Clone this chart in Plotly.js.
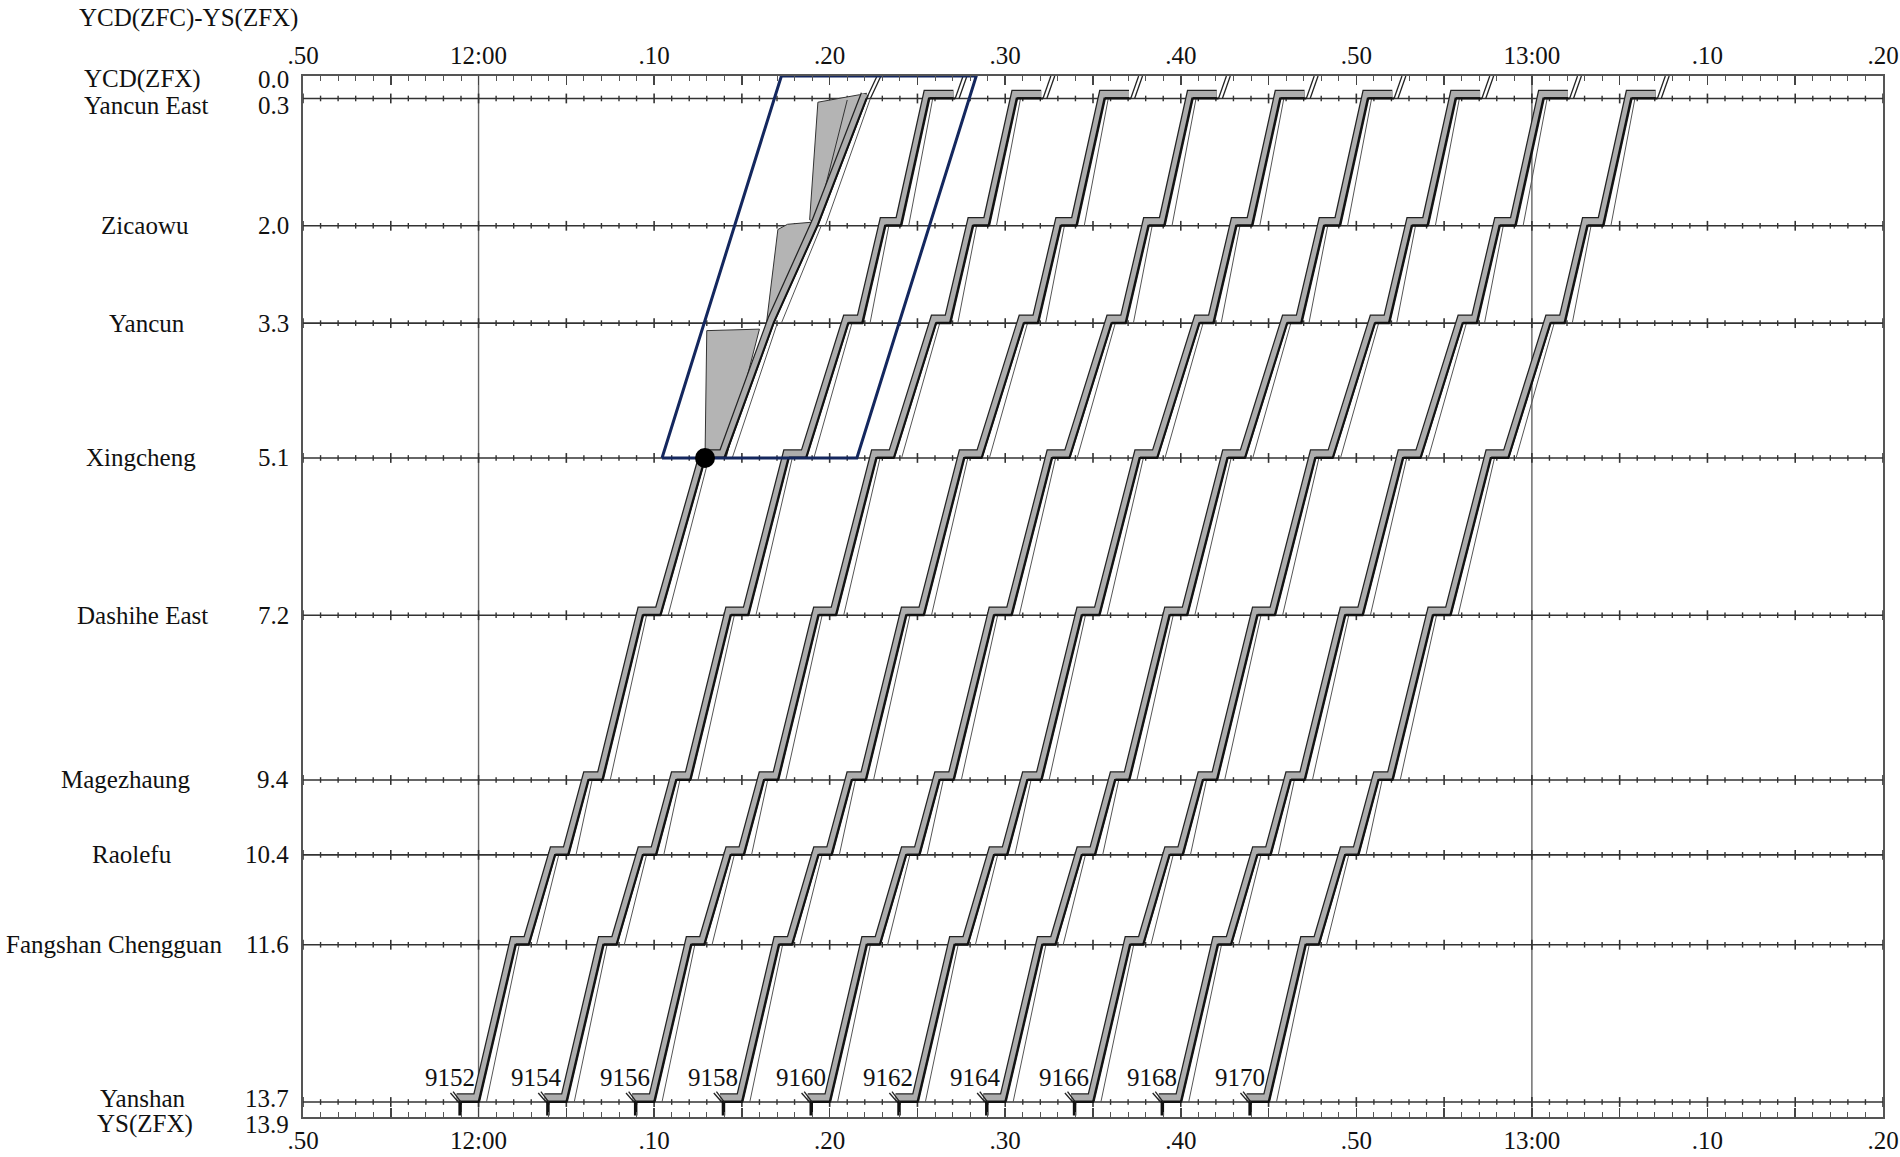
<!DOCTYPE html>
<html><head><meta charset="utf-8">
<script src="https://cdn.plot.ly/plotly-3.0.1.min.js"></script>
<style>html,body{margin:0;padding:0;background:#fff}#chart{width:1900px;height:1157px}</style>
</head><body><div id="chart"></div>
<script>
// ---------------- data ----------------
// stations (km from YCD)
const stationNames = ["YCD(ZFX)","Yancun East","Zicaowu","Yancun","Xingcheng","Dashihe East","Magezhaung","Raolefu","Fangshan Chengguan","Yanshan","YS(ZFX)"];
const stationKm = [0.0,0.3,2.0,3.3,5.1,7.2,9.4,10.4,11.6,13.7,13.9];
const stationKmLabels = ["0.0","0.3","2.0","3.3","5.1","7.2","9.4","10.4","11.6","13.7","13.9"];
// time axis: minutes after 12:00
const tickVals = [-10,0,10,20,30,40,50,60,70,80];
const tickLabels = [".50","12:00",".10",".20",".30",".40",".50","13:00",".10",".20"];
const hourLines = [0,60];

// up-train route Yanshan -> YCD(ZFX)
const routeKm = [13.7,11.6,10.4,9.4,7.2,5.1,3.3,2.0,0.3,0.0];
const trainNos = ["9152","9154","9156","9158","9160","9162","9164","9166","9168","9170"];
const trainStart = [0,5,10,15,20,25,30,35,40,45];            // departure from Yanshan (min after 12:00)
const arrOffset = [-1.15,2.1,4.35,6.25,9.35,12.65,16.05,18.15,20.65,22.6]; // arrival, min after start
const depOffset = [0,2.85,5.1,7.05,10.35,13.65,16.85,19.05,22.15,22.6];    // departure, min after start
// train 9152: disturbed run beyond Xingcheng (min after 12:00)
const t9152Arr = [-1.15,2.1,4.35,6.25,9.35,12.9,16.8,19.3,22.1,22.7];
const t9152Dep = [0,2.85,5.1,7.05,10.35,14.0,16.8,19.3,22.1,22.7];
// grey deviation zones of train 9152
const zoneT  = [[12.9,13.0,16.0,14.1],[16.4,17.05,17.6,19.1,16.8],[18.86,19.33,21.7,22.1,19.3]];
const zoneKm = [[5.1,3.4,3.38,5.1],[3.3,2.05,1.98,1.95,3.3],[1.92,0.35,0.25,0.23,1.96]];
const zoneInnerT = [21.0,19.28];
const zoneInnerKm = [0.32,1.92];
// hold point at Xingcheng
const holdT = [12.9];
const holdKm = [5.1];
// highlighted window (parallelogram)
const windowT  = [10.45,17.25,28.35,21.55,10.45];
const windowKm = [5.1,0.0,0.0,5.1,5.1];

// ---------------- build ----------------
const FONT = "'Liberation Serif','Times New Roman',Times,serif";
const X0 = 303, X1 = 1883, Y0 = 76, Y1 = 1117;
const px2xp = p => (p - X0) / (X1 - X0);
const py2yp = p => (Y1 - p) / (Y1 - Y0);

const traces = [];

// station lines with minute ticks
const lineX = [], lineY = [], tkX = [], tkY = [], tk5X = [], tk5Y = [];
stationKm.forEach(k => {
  if (k === 0.0 || k === 13.9) return;
  lineX.push(-10, 80, null); lineY.push(k, k, null);
  for (let m = -10; m <= 80; m++) {
    if (m % 5 === 0) { tk5X.push(m); tk5Y.push(k); } else { tkX.push(m); tkY.push(k); }
  }
});
traces.push({x: lineX, y: lineY, mode: 'lines', line: {color: '#333', width: 1.6}, hoverinfo: 'skip'});
traces.push({x: tkX, y: tkY, mode: 'markers', marker: {symbol: 'line-ns', size: 4, line: {color: '#333', width: 1.4}}, hoverinfo: 'skip'});
traces.push({x: tk5X, y: tk5Y, mode: 'markers', marker: {symbol: 'line-ns', size: 7, line: {color: '#333', width: 1.6}}, hoverinfo: 'skip'});

// train timetables
const runs = trainStart.map((s, i) => {
  if (i === 0) return {arr: t9152Arr, dep: t9152Dep};
  return {arr: arrOffset.map(v => v + s), dep: depOffset.map(v => v + s)};
});

// deviation zones
zoneT.forEach((zt, j) => {
  traces.push({x: zt.concat([zt[0]]), y: zoneKm[j].concat([zoneKm[j][0]]), mode: 'lines', fill: 'toself',
    fillcolor: '#b4b4b4', line: {color: '#333', width: 1}, hoverinfo: 'skip'});
});
traces.push({x: zoneInnerT, y: zoneInnerKm, mode: 'lines', line: {color: '#333', width: 1}, hoverinfo: 'skip'});

// bands (band drawn slightly up-left of the running line, as in the reference)
const BDX = -0.1, BDY = -0.06;
const bX = [], bY = [], iX = [], iY = [], thX = [], thY = [], hkX = [], hkY = [], stX = [], stY = [];
const last = routeKm.length - 1;
runs.forEach(r => {
  for (let i = 0; i < last; i++) {
    bX.push(r.arr[i] + BDX, r.dep[i] + BDX); bY.push(routeKm[i] + BDY, routeKm[i] + BDY);
    iX.push(r.arr[i], r.dep[i]); iY.push(routeKm[i], routeKm[i]);
  }
  bX.push(null); bY.push(null); iX.push(null); iY.push(null);
  for (let i = 0; i < last - 1; i++) {
    thX.push(r.dep[i] + 0.45, r.arr[i + 1] + 0.22, null);
    thY.push(routeKm[i], routeKm[i + 1], null);
  }
  // end hook to YCD(ZFX)
  hkX.push(r.dep[last - 1], r.arr[last], null, r.dep[last - 1] + 0.22, r.arr[last] + 0.22, null);
  hkY.push(routeKm[last - 1], routeKm[last], null, routeKm[last - 1], routeKm[last], null);
  // start hook at Yanshan
  hkX.push(r.arr[0], r.arr[0] - 0.45, null, r.arr[0] + 0.15, r.arr[0] - 0.3, null);
  hkY.push(routeKm[0], 13.58, null, routeKm[0], 13.56, null);
  stX.push(r.arr[0] + 0.1, r.arr[0] + 0.1, null);
  stY.push(routeKm[0], 13.88, null);
});
traces.push({x: thX, y: thY, mode: 'lines', line: {color: '#555', width: 1}, hoverinfo: 'skip'});
traces.push({x: bX, y: bY, mode: 'lines', line: {color: '#222', width: 8.5}, hoverinfo: 'skip'});
traces.push({x: bX, y: bY, mode: 'lines', line: {color: '#adadad', width: 6}, hoverinfo: 'skip'});
traces.push({x: iX, y: iY, mode: 'lines', line: {color: '#111', width: 2}, hoverinfo: 'skip'});
traces.push({x: hkX, y: hkY, mode: 'lines', line: {color: '#222', width: 1.3}, hoverinfo: 'skip'});
traces.push({x: stX, y: stY, mode: 'lines', line: {color: '#111', width: 3.5}, hoverinfo: 'skip'});

// window and hold point
traces.push({x: windowT, y: windowKm, mode: 'lines', line: {color: '#14275e', width: 3}, hoverinfo: 'skip'});
traces.push({x: holdT, y: holdKm, mode: 'markers', marker: {color: '#000', size: 20}, cliponaxis: false, hoverinfo: 'skip'});

// dummy trace to show top axis
traces.push({x: [-10, 80], y: [0, 0], xaxis: 'x2', mode: 'lines', line: {width: 0}, hoverinfo: 'skip'});

// ticks
const majV = [], majT = [];
for (let v = -10; v <= 80; v += 5) {
  majV.push(v);
  const k = tickVals.indexOf(v);
  majT.push(k >= 0 ? tickLabels[k] : '');
}
const xBase = {
  range: [-10, 80], tickmode: 'array', tickvals: majV, ticktext: majT,
  ticks: 'inside', ticklen: 9, tickwidth: 1.5, tickcolor: '#444',
  showline: true, linecolor: '#555', linewidth: 2, showgrid: false, zeroline: false,
  minor: {ticks: 'inside', ticklen: 5, tickwidth: 1, tickcolor: '#555', tickmode: 'linear', tick0: 0, dtick: 1, showgrid: false},
  tickfont: {family: FONT, size: 25, color: '#111'}, fixedrange: true
};

const shapes = hourLines.map(h => ({type: 'line', xref: 'x', yref: 'paper', x0: h, x1: h, y0: 0, y1: 1,
  line: {color: '#666', width: 1.4}, layer: 'below'}));

// labels
const nameCenterPx = [142,146,145,147,141,142,126,132,114,142,145];
const labelShift = [-3,-7,0,0,0,0,0,0,0,4,-7];
const annotations = [];
stationKm.forEach((k, i) => {
  annotations.push({xref: 'paper', yref: 'y', x: px2xp(nameCenterPx[i]), y: k, xanchor: 'center', yanchor: 'middle',
    yshift: labelShift[i], text: stationNames[i], showarrow: false, font: {family: FONT, size: 25, color: '#111'}});
  annotations.push({xref: 'paper', yref: 'y', x: px2xp(291), y: k, xanchor: 'right', yanchor: 'middle',
    yshift: labelShift[i], text: stationKmLabels[i], showarrow: false, font: {family: FONT, size: 25, color: '#111'}});
});
trainNos.forEach((n, i) => {
  annotations.push({xref: 'x', yref: 'y', x: trainStart[i], y: routeKm[0], xanchor: 'right', yanchor: 'middle',
    xshift: -2, yshift: 25, text: n, showarrow: false, font: {family: FONT, size: 25, color: '#111'}});
});
annotations.push({xref: 'paper', yref: 'paper', x: px2xp(77), y: py2yp(18), xanchor: 'left', yanchor: 'middle',
  text: 'YCD(ZFC)-YS(ZFX)', showarrow: false, font: {family: FONT, size: 25, color: '#111'}});

const layout = {
  width: 1900, height: 1157,
  margin: {l: X0, r: 1900 - X1, t: Y0, b: 1157 - Y1, pad: 0},
  paper_bgcolor: '#fff', plot_bgcolor: '#fff', showlegend: false,
  font: {family: FONT, size: 25, color: '#111'},
  xaxis: Object.assign({}, xBase, {side: 'bottom'}),
  xaxis2: Object.assign({}, xBase, {side: 'top', overlaying: 'x'}),
  yaxis: {range: [13.9, 0], showline: true, mirror: true, linecolor: '#555', linewidth: 2,
    showticklabels: false, ticks: '', showgrid: false, zeroline: false, fixedrange: true},
  shapes: shapes, annotations: annotations
};

Plotly.newPlot('chart', traces, layout, {displayModeBar: false, staticPlot: true});
</script>
</body></html>
